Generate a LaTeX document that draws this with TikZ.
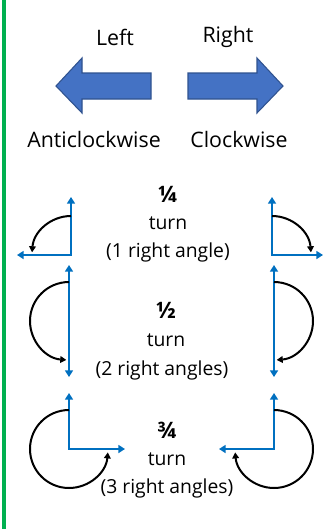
\documentclass[tikz,border=0pt]{standalone}
\usepackage{fontspec}
\setmainfont{Open Sans}
\usetikzlibrary{arrows.meta}
\definecolor{bargreen}{HTML}{00B050}
\definecolor{blockblue}{HTML}{4472C4}
\definecolor{blockedge}{HTML}{2F528F}
\definecolor{lineblue}{HTML}{0070C0}
\tikzset{
  blockarrow/.style={fill=blockblue,draw=blockedge,line width=0.8pt,line join=miter},
  axis/.style={draw=lineblue,line width=1.6pt,{Triangle[width=6pt,length=5pt]}-{Triangle[width=6pt,length=5pt]}},
  turnarc/.style={draw=black,line width=1.5pt,-{Triangle[width=5pt,length=4.5pt]}},
  bigtxt/.style={font=\fontsize{16}{19}\selectfont,inner sep=0pt},
  midtxt/.style={font=\fontsize{14.5}{17}\selectfont,inner sep=0pt},
  fractxt/.style={font=\fontsize{17}{20}\selectfont\bfseries,inner sep=0pt},
}
\begin{document}
\begin{tikzpicture}[x=0.75pt,y=-0.75pt]
\useasboundingbox (0,0) rectangle (325,529);
\fill[white] (0,0) rectangle (325,529);
\fill[bargreen] (2,0) rectangle (6,529);
% block arrows
\path[blockarrow] (151,73) -- (82,73) -- (82,58) -- (56,86) -- (82,113) -- (82,99) -- (151,99) -- cycle;
\path[blockarrow] (188,73) -- (257,73) -- (257,58) -- (283,86) -- (257,113) -- (257,99) -- (188,99) -- cycle;
\node[bigtxt] (left) at (115,37) {Left};
\node[bigtxt] (right) at (228,37) {Right};
\node[bigtxt] (acw) at (94,139) {Anticlockwise};
\node[bigtxt] (cw) at (239,139) {Clockwise};
% quarter turns
\draw[axis] (71,197) -- (71,255) -- (17,255);
\draw[turnarc] (71,216) arc[start angle=-90,end angle=-176,radius=39];
\draw[axis] (272,197) -- (272,255) -- (323,255);
\draw[turnarc] (272,216) arc[start angle=-90,end angle=-4,radius=39];
% half turns
\draw[axis] (69,265) -- (69,377);
\draw[turnarc] (69,282) arc[start angle=-90,end angle=-266,radius=39];
\draw[axis] (274,265) -- (274,377);
\draw[turnarc] (274,282) arc[start angle=-90,end angle=86,radius=39];
% three-quarter turns
\draw[axis] (69,393) -- (69,449) -- (125,449);
\draw[turnarc] (69,410) arc[start angle=-90,end angle=-355,radius=39];
\draw[axis] (274,393) -- (274,449) -- (219,449);
\draw[turnarc] (274,410) arc[start angle=-90,end angle=175,radius=39];
% middle texts
\node[fractxt] (q1) at (168,194) {¼};
\node[midtxt] (q2) at (168,223) {turn};
\node[midtxt] (q3) at (168,252) {(1 right angle)};
\node[fractxt] (h1) at (166,310) {½};
\node[midtxt] (h2) at (166,340) {turn};
\node[midtxt] (h3) at (162,370) {(2 right angles)};
\node[fractxt] (t1) at (167,430) {¾};
\node[midtxt] (t2) at (167,459) {turn};
\node[midtxt] (t3) at (167,488) {(3 right angles)};
\end{tikzpicture}
\end{document}
